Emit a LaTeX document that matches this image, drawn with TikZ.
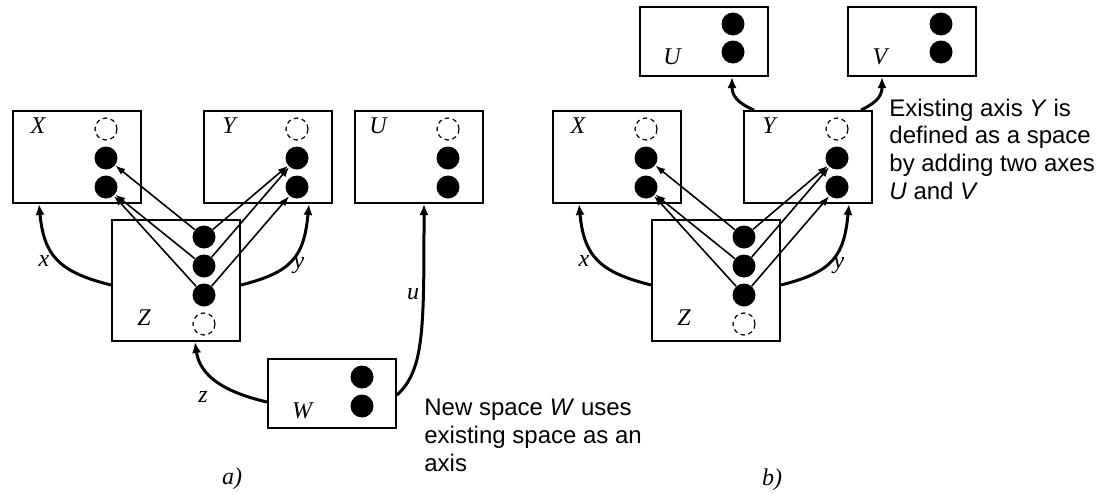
\documentclass[tikz,border=0pt]{standalone}
\usepackage{fontspec}
\setmainfont{Liberation Serif}
\newfontfamily\notefont{Liberation Sans}
\usetikzlibrary{arrows.meta}

\tikzset{
    space/.style={draw, line width=1pt, inner sep=0pt,
        minimum width=64pt, minimum height=46pt},
    dot/.style={circle, fill=black, inner sep=0pt, minimum size=11.5pt},
    freedot/.style={circle, draw, line width=0.6pt,
        dash pattern=on 2.2pt off 1.8pt, inner sep=0pt, minimum size=11pt},
    map/.style={-{Latex[length=5pt,width=3.6pt]}, line width=0.8pt},
    axis/.style={-{Latex[length=5.5pt,width=4.6pt]}, line width=1.5pt},
    spacename/.style={font=\fontsize{12}{14}\selectfont\itshape, inner sep=0pt},
    note/.style={font=\notefont\fontsize{12}{13.8}\selectfont, align=left,
        anchor=base west, inner sep=0pt}
}

\begin{document}
\begin{tikzpicture}[x=0.5pt, y=-0.5pt]
    \useasboundingbox (0,0) rectangle (1108,493);

    % Spaces
    \node[space] (Xa) at (77,157) {};
    \node[space] (Ya) at (268,157) {};
    \node[space] (Ua) at (419,157) {};
    \node[space, minimum height=60.5pt] (Za) at (176,280.5) {};
    \node[space, minimum height=34.5pt] (Wa) at (332,393.5) {};

    % Names
    \node[spacename] (Xa-name) at (38,126) {X};
    \node[spacename] (Ya-name) at (229,126) {Y};
    \node[spacename] (Ua-name) at (378,126) {U};
    \node[spacename] (Za-name) at (144,318) {Z};
    \node[spacename] (Wa-name) at (302,411) {W};

    % Points of X, Y and U
    \foreach \s/\x in {Xa/106, Ya/297, Ua/448} {
        \node[freedot] (\s0) at (\x,129) {};
        \node[dot] (\s1) at (\x,158) {};
        \node[dot] (\s2) at (\x,187) {};
    }

    % Points of Z
    \foreach \i/\y in {1/237, 2/266, 3/295} {
        \node[dot] (Za\i) at (204,\y) {};
    }
    \node[freedot] (Za0) at (204,324) {};

    % Points of W
    \node[dot] (Wa1) at (362,377) {};
    \node[dot] (Wa2) at (362,406) {};

    % Maps from Z
    \foreach \a/\b in {Za1/Xa1, Za2/Xa2, Za3/Xa2, Za1/Ya1, Za2/Ya1, Za3/Ya2} {
        \draw[map] (\a) -- (\b);
    }

    % Axes
    \draw[axis] ([yshift=-2.25pt]Za.west)
        .. controls +(-52,-13) and +(5,52) .. ([xshift=13.5pt]Xa.south west);
    \draw[axis] ([yshift=-2.25pt]Za.east)
        .. controls +(52,-13) and +(-5,52) .. ([xshift=-12pt]Ya.south east);
    \draw[axis] ([yshift=-4.25pt]Wa.west)
        .. controls +(-43,-10) and +(5,34) .. ([xshift=9.5pt]Za.south);
    \draw[axis] ([yshift=-0.75pt]Wa.east)
        .. controls +(27,-25) and +(0,127) .. ([xshift=2.5pt]Ua.south);
    \node[spacename] (xa) at (44,261) {x};
    \node[spacename] (ya) at (299,266) {y};
    \node[spacename] (za) at (203,397) {z};
    \node[spacename] (ua) at (413,294) {u};

    \node[note] (note-a) at (424,471)
        {New space \textit{W} uses\\existing space as an\\axis};
    \node[spacename] (label-a) at (232,479) {a)};

    \begin{scope}[shift={(540,0)}]
        % Spaces
        \node[space] (Xb) at (77,157) {};
        \node[space] (Yb) at (268,157) {};
        \node[space, minimum height=60.5pt] (Zb) at (176,280.5) {};
        \node[space, minimum height=34.5pt] (Ub) at (164,41.5) {};
        \node[space, minimum height=34.5pt] (Vb) at (372,41.5) {};

        % Names
        \node[spacename] (Xb-name) at (38,126) {X};
        \node[spacename] (Yb-name) at (229,126) {Y};
        \node[spacename] (Zb-name) at (144,318) {Z};
        \node[spacename] (Ub-name) at (132,57) {U};
        \node[spacename] (Vb-name) at (340,57) {V};

        % Points of X and Y
        \foreach \s/\x in {Xb/106, Yb/297} {
            \node[freedot] (\s0) at (\x,129) {};
            \node[dot] (\s1) at (\x,158) {};
            \node[dot] (\s2) at (\x,187) {};
        }

        % Points of Z
        \foreach \i/\y in {1/237, 2/266, 3/295} {
            \node[dot] (Zb\i) at (204,\y) {};
        }
        \node[freedot] (Zb0) at (204,324) {};

        % Points of U and V
        \foreach \s/\x in {Ub/193, Vb/401} {
            \node[dot] (\s1) at (\x,24) {};
            \node[dot] (\s2) at (\x,52) {};
        }

        % Maps from Z
        \foreach \a/\b in {Zb1/Xb1, Zb2/Xb2, Zb3/Xb2, Zb1/Yb1, Zb2/Yb1, Zb3/Yb2} {
            \draw[map] (\a) -- (\b);
        }

        % Axes
        \draw[axis] ([yshift=-2.25pt]Zb.west)
            .. controls +(-52,-13) and +(5,52) .. ([xshift=13.5pt]Xb.south west);
        \draw[axis] ([yshift=-2.25pt]Zb.east)
            .. controls +(52,-13) and +(-5,52) .. ([xshift=-12pt]Yb.south east);
        \draw[axis] ([xshift=5.5pt]Yb.north west)
            .. controls +(-17,-7) and +(0,18) .. ([xshift=14pt]Ub.south);
        \draw[axis] ([xshift=-6pt]Yb.north east)
            .. controls +(17,-8) and +(0,18) .. ([xshift=-15pt]Vb.south);
        \node[spacename] (xb) at (44,261) {x};
        \node[spacename] (yb) at (299,266) {y};

        \node[note] (note-b) at (349,199)
            {Existing axis \textit{Y} is\\defined as a space\\by adding two axes\\\textit{U} and \textit{V}};
        \node[spacename] (label-b) at (232,480) {b)};
    \end{scope}
\end{tikzpicture}
\end{document}
